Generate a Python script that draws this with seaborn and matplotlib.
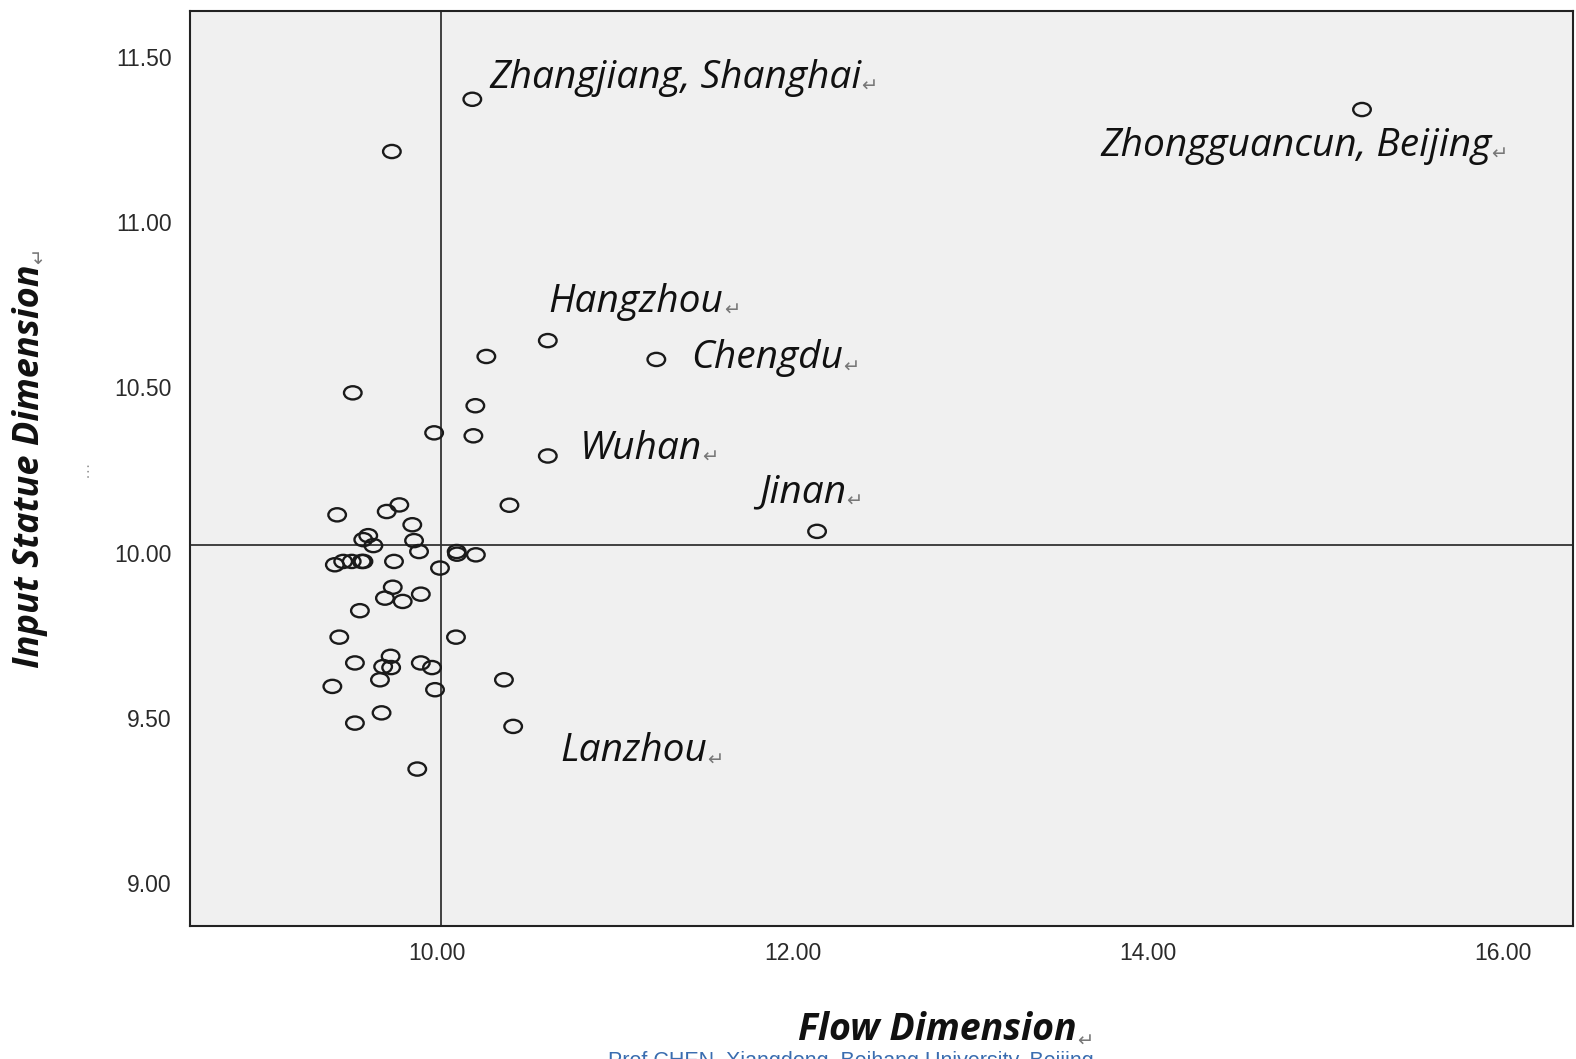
import numpy as np
import matplotlib
matplotlib.use('Agg')
import matplotlib.pyplot as plt
import seaborn as sns
import pandas as pd
from matplotlib.path import Path
from matplotlib.transforms import Affine2D

# scatter values
flow = [10.198, 15.207, 9.745, 10.623, 10.277, 11.234, 9.525, 10.215, 9.983,
        10.204, 10.623, 10.407, 12.139, 9.437, 9.716, 9.787, 9.860, 9.584,
        9.612, 9.641, 9.870, 9.898, 10.110, 10.112, 10.218, 10.016, 9.424,
        9.471, 9.519, 9.575, 9.585, 9.757, 9.750, 9.706, 9.806, 9.908, 9.565,
        9.449, 10.106, 9.537, 9.738, 9.696, 9.741, 9.908, 9.971, 9.678,
        9.410, 9.988, 10.376, 9.687, 9.537, 10.428, 9.888]
status = [11.371, 11.340, 11.213, 10.641, 10.593, 10.584, 10.483, 10.444, 10.362,
          10.353, 10.292, 10.143, 10.064, 10.114, 10.124, 10.144, 10.084, 10.039,
          10.051, 10.021, 10.036, 10.003, 10.003, 9.995, 9.993, 9.953, 9.963,
          9.973, 9.973, 9.973, 9.973, 9.973, 9.895, 9.862, 9.852, 9.874, 9.824,
          9.744, 9.744, 9.666, 9.686, 9.655, 9.652, 9.666, 9.652, 9.615,
          9.595, 9.585, 9.615, 9.515, 9.484, 9.474, 9.345]

# labelled cities: index of the point they belong to
city_names = ['Zhangjiang, Shanghai', 'Zhongguancun, Beijing', 'Hangzhou',
              'Chengdu', 'Wuhan', 'Jinan', 'Lanzhou']
city_index = [0, 1, 3, 5, 10, 12, 51]

mean_flow = 10.023
mean_status = 10.024

x_ticks = [10, 12, 14, 16]
y_ticks = [9.0, 9.5, 10.0, 10.5, 11.0, 11.5]

df = pd.DataFrame({'Flow': flow, 'Status': status})

sns.set_style('white')
plt.rcParams['font.family'] = ['Liberation Sans', 'DejaVu Sans']

fig = plt.figure(figsize=(15.76, 10.59), dpi=100)
ax = fig.add_axes([0.1205, 0.1252, 0.8776, 0.8644])
ax.set_facecolor('#f0f0f0')

# the markers are squashed circles in the original
ellipse = Path.unit_circle().transformed(Affine2D().scale(1.0, 0.75))
sns.scatterplot(data=df, x='Flow', y='Status', ax=ax, marker=ellipse, s=160,
                facecolors='none', edgecolor='#1a1a1a', linewidth=1.7, zorder=3)

ax.axvline(mean_flow, color='#333333', lw=1.3, zorder=2)
ax.axhline(mean_status, color='#333333', lw=1.3, zorder=2)

ax.set_xlim(8.608, 16.395)
ax.set_ylim(8.869, 11.638)
ax.set_xticks(x_ticks)
ax.set_yticks(y_ticks)
ax.set_xticklabels([f'{v:.2f}' for v in x_ticks])
ax.set_yticklabels([f'{v:.2f}' for v in y_ticks])
ax.tick_params(axis='both', direction='out', length=8, width=1.5, color='#222222',
               labelsize=16.5, labelcolor='#2a2a2a', pad=3)
ax.tick_params(axis='y', length=11, pad=2)
for sp in ax.spines.values():
    sp.set_color('#222222')
    sp.set_linewidth(1.5)

# label offsets in pixels from the point
offsets = [(17, 21), (-262, -36), (1, 39), (35, 1), (32, 7), (-58, 39), (47, -25)]
label_font = dict(family=['Open Sans', 'DejaVu Sans'], style='italic', size=28,
                  color='#111111')
for name, idx, off in zip(city_names, city_index, offsets):
    t = ax.annotate(name, xy=(flow[idx], status[idx]), xytext=off,
                    textcoords='offset pixels', ha='left', va='center', **label_font)
    ax.annotate('\u21b5', xy=(1, 0.28), xycoords=t, ha='left', va='center',
                fontsize=14, color='#777777', family='DejaVu Sans')

ax.set_xlabel('')
ax.set_ylabel('')
xl = fig.text(0.595, 0.027, 'Flow Dimension', ha='center', va='center',
              family=['Open Sans', 'DejaVu Sans'], style='italic', weight='bold',
              size=27, color='#111111')
ax.annotate('\u21b5', xy=(1, 0.22), xycoords=xl, ha='left', va='center',
            fontsize=14, color='#777777', family='DejaVu Sans')
yl = fig.text(0.019, 0.56, 'Input Statue Dimension', ha='center', va='center',
              rotation=90, family=['Open Sans', 'DejaVu Sans'], style='italic',
              weight='bold', size=26, color='#111111')
ax.annotate('\u21b5', xy=(0.75, 1), xycoords=yl, ha='center', va='bottom',
            fontsize=14, color='#777777', family='DejaVu Sans', rotation=90)
fig.text(0.053, 0.557, '\u2026', ha='center', va='center', rotation=90,
         fontsize=12, color='#999999')

# footer, cut off at the bottom edge like in the slide
fig.text(0.54, -0.012, 'Prof CHEN, Xiangdong, Beihang University, Beijing',
         ha='center', va='bottom', fontsize=15.5, color='#3a6db0')

fig.savefig('out.png', dpi=100)
